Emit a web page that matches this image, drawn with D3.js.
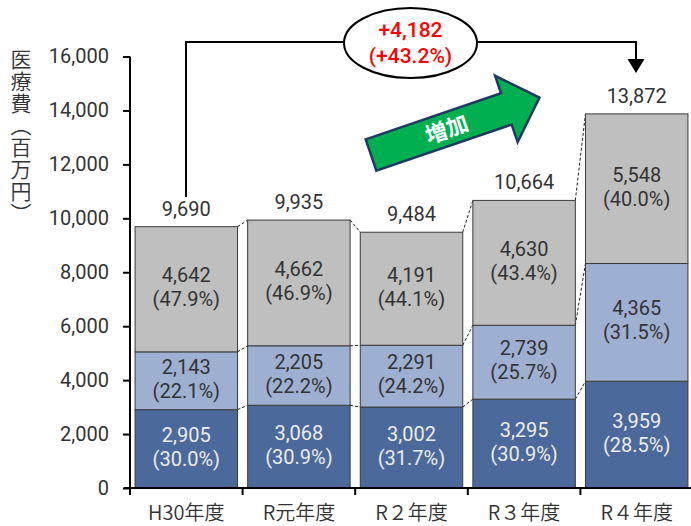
<!DOCTYPE html>
<html><head><meta charset="utf-8">
<script src="https://cdn.jsdelivr.net/npm/d3@7"></script>
<style>
html,body{margin:0;padding:0;background:#fff;}
svg{display:block;font-family:"Noto Sans CJK JP","Noto Sans",sans-serif;}
</style></head>
<body>
<svg id="chart" width="691" height="526"></svg>
<script>
const categories = ["H30年度", "R元年度", "R２年度", "R３年度", "R４年度"];
const seriesBottom = [2905, 3068, 3002, 3295, 3959];
const seriesMiddle = [2143, 2205, 2291, 2739, 4365];
const seriesTop = [4642, 4662, 4191, 4630, 5548];
const pctBottom = ["30.0%", "30.9%", "31.7%", "30.9%", "28.5%"];
const pctMiddle = ["22.1%", "22.2%", "24.2%", "25.7%", "31.5%"];
const pctTop = ["47.9%", "46.9%", "44.1%", "43.4%", "40.0%"];
const totals = [9690, 9935, 9484, 10664, 13872];
const yTicks = [0, 2000, 4000, 6000, 8000, 10000, 12000, 14000, 16000];
const increaseText = ["+4,182", "(+43.2%)"];
const yTitle = "医療費（百万円）";
const arrowText = "増加";

const svg = d3.select("#chart");
const fmt = d3.format(",");
const W = 400;
const WJ = 350;
const TXT = "#333";
const NUMF = "Roboto, 'Noto Sans CJK JP', sans-serif";

const x = d3.scaleBand().domain(categories).range([130, 693]).paddingInner(0.09).paddingOuter(0.045);
const y = d3.scaleLinear().domain([0, 16000]).range([488, 56.5]);

const seriesList = [
  {vals: seriesBottom, pct: pctBottom, fill: "#4b6a9b", text: "#ececec"},
  {vals: seriesMiddle, pct: pctMiddle, fill: "#9eb0d1", text: TXT},
  {vals: seriesTop, pct: pctTop, fill: "#bfbfbf", text: TXT}
];
const stacked = categories.map((c, i) => {
  let acc = 0;
  return seriesList.map(s => { const y0 = acc; acc += s.vals[i]; return {cat: c, y0, y1: acc, v: s.vals[i]}; });
});

// dashed connectors
const conn = svg.append("g");
for (let i = 0; i < categories.length - 1; i++) {
  for (let k = 0; k < 3; k++) {
    conn.append("line")
      .attr("x1", x(categories[i]) + x.bandwidth()).attr("y1", y(stacked[i][k].y1))
      .attr("x2", x(categories[i + 1])).attr("y2", y(stacked[i + 1][k].y1))
      .attr("stroke", "#222").attr("stroke-width", 1).attr("stroke-dasharray", "3,2");
  }
}

// bars
seriesList.forEach((s, k) => {
  const g = svg.append("g");
  categories.forEach((c, i) => {
    const d = stacked[i][k];
    g.append("rect").attr("x", x(c)).attr("width", x.bandwidth())
      .attr("y", y(d.y1)).attr("height", y(d.y0) - y(d.y1))
      .attr("fill", s.fill).attr("stroke", "#3a3a3a").attr("stroke-width", 1);
    const mid = (y(d.y0) + y(d.y1)) / 2;
    const cx = x(c) + x.bandwidth() / 2;
    const t = g.append("text").attr("x", cx).attr("y", mid - 7).attr("text-anchor", "middle")
      .attr("font-family", NUMF).attr("font-size", 20).attr("font-weight", W).attr("fill", s.text);
    t.append("tspan").attr("x", cx).text(fmt(d.v));
    t.append("tspan").attr("x", cx).attr("dy", 24).text("(" + s.pct[i] + ")");
  });
});

// totals
categories.forEach((c, i) => {
  svg.append("text").attr("x", x(c) + x.bandwidth() / 2).attr("y", y(totals[i]) - 11)
    .attr("text-anchor", "middle").attr("font-family", NUMF).attr("font-size", 20).attr("font-weight", W)
    .attr("fill", TXT).text(fmt(totals[i]));
});

// y axis
const yAxis = svg.append("g").attr("transform", "translate(130,0)")
  .call(d3.axisLeft(y).tickValues(yTicks).tickFormat(fmt).tickSize(7).tickPadding(14));
yAxis.select(".domain").attr("stroke", "#000").attr("stroke-width", 2).attr("d", "M0,56.5V488");
yAxis.selectAll(".tick line").attr("stroke", "#000").attr("stroke-width", 2);
yAxis.selectAll(".tick text").attr("font-size", 20).attr("font-weight", W).attr("fill", TXT)
  .attr("font-family", NUMF);

// x axis
const xAxisG = svg.append("g").attr("transform", "translate(0,488)");
xAxisG.append("line").attr("x1", 124).attr("x2", 691).attr("y1", 0).attr("y2", 0).attr("stroke", "#000").attr("stroke-width", 2);
const bounds = categories.map(c => x(c) - (x.step() - x.bandwidth()) / 2).concat([693]);
bounds.forEach(b => {
  xAxisG.append("line").attr("x1", b).attr("x2", b).attr("y1", 0).attr("y2", 7).attr("stroke", "#000").attr("stroke-width", 2);
});
categories.forEach(c => {
  xAxisG.append("text").attr("x", x(c) + x.bandwidth() / 2).attr("y", 32)
    .attr("text-anchor", "middle").attr("font-size", 20).attr("font-weight", WJ).attr("fill", TXT).text(c);
});

// y title (vertical)
svg.append("text").attr("x", 21).attr("y", 49)
  .style("writing-mode", "vertical-rl").style("letter-spacing", "1px")
  .attr("font-size", 21).attr("font-weight", WJ).attr("fill", TXT).text(yTitle);

// bracket with ellipse
svg.append("path").attr("d", `M186,197V42H344`).attr("fill", "none").attr("stroke", "#000").attr("stroke-width", 2);
svg.append("path").attr("d", `M477,42H636V60`).attr("fill", "none").attr("stroke", "#000").attr("stroke-width", 2);
svg.append("path").attr("d", "M627.5,59L644.5,59L636,73Z").attr("fill", "#000");
svg.append("ellipse").attr("cx", 410.5).attr("cy", 43).attr("rx", 66.5).attr("ry", 35)
  .attr("fill", "#fff").attr("stroke", "#000").attr("stroke-width", 2);
const rt = svg.append("text").attr("text-anchor", "middle").attr("y", 37).attr("font-family", NUMF)
  .attr("font-size", 21).attr("font-weight", 500).attr("fill", "#ff0000");
rt.append("tspan").attr("x", 410.5).text(increaseText[0]);
rt.append("tspan").attr("x", 410.5).attr("dy", 26).text(increaseText[1]);

// green arrow
const ag = svg.append("g").attr("transform", "translate(371,155) rotate(-18.8)");
ag.append("path").attr("d", "M0,-16.5H143V-35L178,0L143,35V16.5H0Z")
  .attr("fill", "#00b050").attr("stroke", "#1f3864").attr("stroke-width", 2.5).attr("stroke-linejoin", "miter");
ag.append("text").attr("x", 80).attr("y", 8).attr("text-anchor", "middle")
  .attr("font-size", 22).attr("font-weight", "bold").attr("fill", "#fff").text(arrowText);
</script>
</body></html>
